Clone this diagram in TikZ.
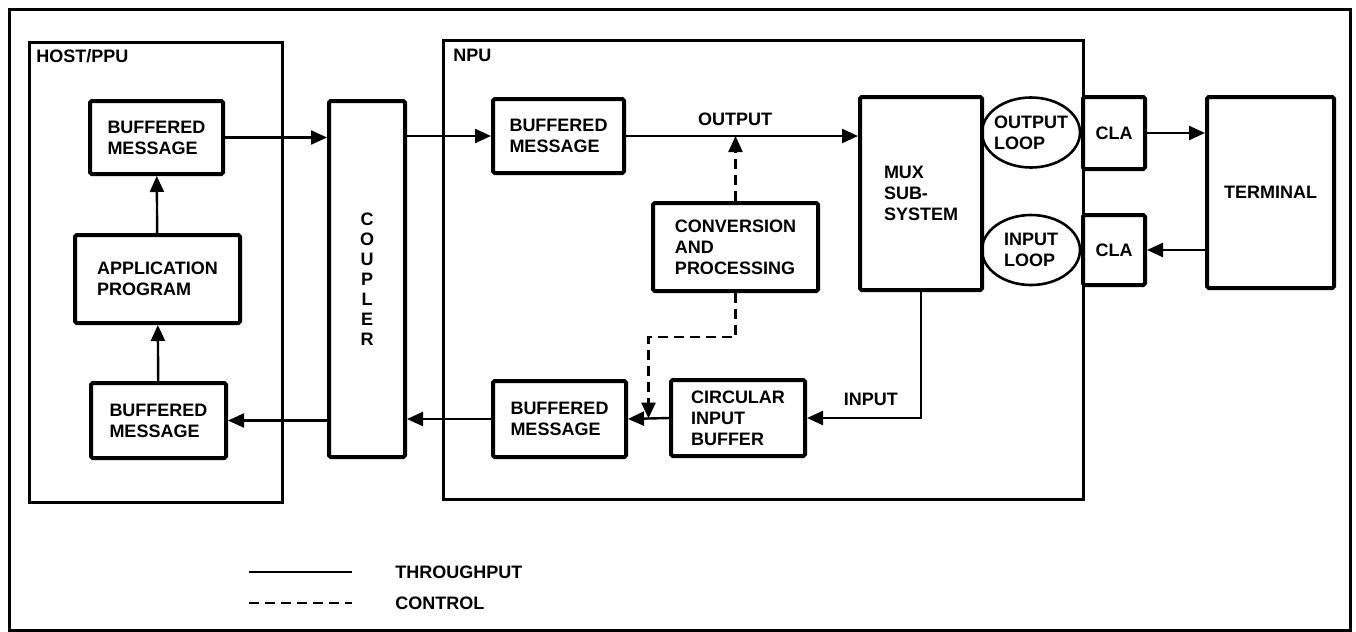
\documentclass[tikz,border=0pt]{standalone}
\usepackage{fontspec}
\setmainfont{Liberation Sans}
\usetikzlibrary{shapes.geometric,arrows.meta,positioning,calc}

\begin{document}
\begin{tikzpicture}[x=0.5pt, y=-0.5pt, font=\fontsize{9}{10.5}\selectfont\bfseries,
  box/.style={draw, line width=2pt, rounded corners=0.8pt, align=left, inner sep=0pt},
  loopnode/.style={draw, ellipse, line width=1.3pt, align=left, inner xsep=-2pt, inner ysep=0pt, minimum width=49pt, minimum height=35pt},
  frame/.style={draw, line width=1.5pt},
  arr/.style={-{Triangle[length=8pt,width=7pt]}, line width=1.2pt},
  ctl/.style={arr, dash pattern=on 5pt off 3pt}]
\useasboundingbox (0,0) rectangle (1356,632);
\draw[frame] (9,9) rectangle (1350,630);
% host side
\draw[frame] (29,42) rectangle (282,502);
\node[anchor=north west, inner sep=0pt] (hostlbl) at (36,49) {HOST/PPU};
\node[box, minimum width=66.5pt, minimum height=36.5pt] (hbm1) at (156.5,137.5) {BUFFERED\\MESSAGE};
\node[box, minimum width=82.5pt, minimum height=44pt] (app) at (157.5,279) {APPLICATION\\PROGRAM};
\node[box, minimum width=67.5pt, minimum height=37.5pt] (hbm2) at (158.5,420.5) {BUFFERED\\MESSAGE};
\node[box, align=center, font=\fontsize{9}{10}\selectfont\bfseries, minimum width=38pt, minimum height=178pt] (coupler) at (367,279) {C\\O\\U\\P\\L\\E\\R};
% npu side
\draw[frame] (443,40) rectangle (1083,499);
\node[anchor=north west, inner sep=0pt] (npulbl) at (453,49) {NPU};
\node[box, minimum width=65.5pt, minimum height=37pt] (nbm1) at (558.5,136) {BUFFERED\\MESSAGE};
\node[box, minimum width=82.5pt, minimum height=44pt] (conv) at (735.5,247) {CONVERSION\\AND\\PROCESSING};
\node[box, minimum width=66.5pt, minimum height=38pt] (nbm2) at (559.5,419) {BUFFERED\\MESSAGE};
\node[box, minimum width=67pt, minimum height=38pt] (cib) at (738,418) {CIRCULAR\\INPUT\\BUFFER};
\node[box, minimum width=61pt, minimum height=96.5pt] (mux) at (921,193.5) {MUX\\SUB-\\SYSTEM};
\node[loopnode] (outloop) at (1031,132.5) {OUTPUT\\LOOP};
\node[loopnode] (inloop) at (1031,250) {INPUT\\LOOP};
\node[box, minimum width=31pt, minimum height=36pt] (cla1) at (1114,133) {CLA};
\node[box, minimum width=31pt, minimum height=35pt] (cla2) at (1114,250) {CLA};
\node[box, minimum width=63.5pt, minimum height=95.5pt] (term) at (1270.5,192.5) {TERMINAL};
\coordinate (join) at ($(nbm2.east)!0.5!(cib.west)$);
% throughput
\draw[arr] (app) -- (hbm1);
\draw[arr] (hbm2) -- (app);
\draw[arr] (hbm1.east) -- (hbm1.east -| coupler.west);
\draw[arr] (coupler.east |- nbm1.west) -- (nbm1.west);
\draw[arr] (nbm1.east) -- (nbm1.east -| mux.west) node[pos=0.47, above=1pt] (outlbl) {OUTPUT};
\draw[arr] (mux.south) |- (cib.east) node[pos=0.72, above=2pt] (inlbl) {INPUT};
\draw[arr] (cib.west) -- (nbm2.east);
\draw[arr] (nbm2.west) -- (nbm2.west -| coupler.east);
\draw[arr] (coupler.west |- hbm2.east) -- (hbm2.east);
\draw[arr] (cla1.east) -- (cla1.east -| term.west);
\draw[arr] (term.west |- cla2.east) -- (cla2.east);
% control
\draw[ctl] (conv.north) -- (conv.north |- nbm1.east);
\draw[ctl] (conv.south) -- ++(0,44) -| (join);
% legend
\coordinate (tp1) at (249,572);
\coordinate (tp2) at (352,572);
\coordinate (ct1) at (249,603);
\coordinate (ct2) at (352,603);
\draw[line width=1.4pt] (tp1) -- (tp2);
\draw[line width=1.4pt, dash pattern=on 5pt off 3pt] (ct1) -- (ct2);
\node[anchor=west, inner sep=0pt] (tplbl) at (395,572) {THROUGHPUT};
\node[anchor=west, inner sep=0pt] (ctlbl) at (395,603) {CONTROL};
\end{tikzpicture}
\end{document}
